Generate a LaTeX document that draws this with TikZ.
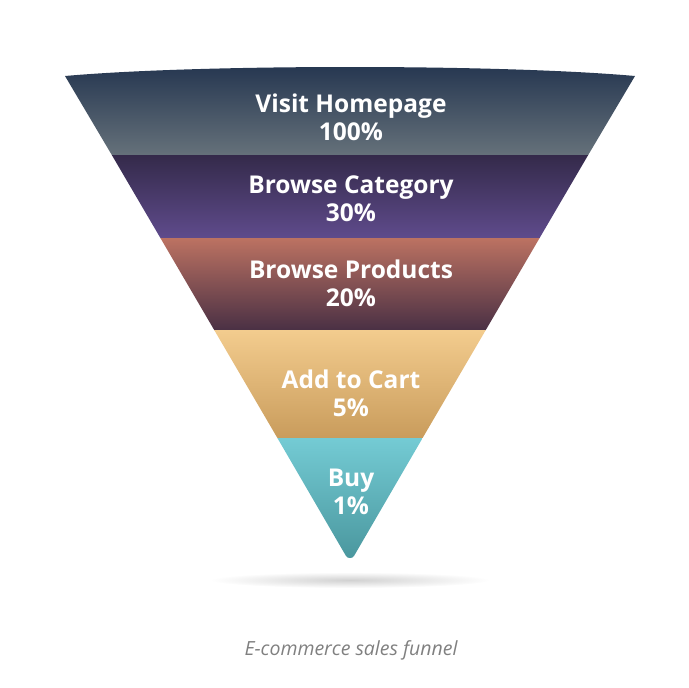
\documentclass[tikz,border=0pt]{standalone}
\usepackage{fontspec}
\setmainfont{Open Sans}
\usetikzlibrary{positioning}
\definecolor{navytop}{HTML}{253650}
\definecolor{navybot}{HTML}{65717A}
\definecolor{purptop}{HTML}{342A4A}
\definecolor{purpbot}{HTML}{5F4B8C}
\definecolor{salmtop}{HTML}{BC7262}
\definecolor{salmbot}{HTML}{4A3044}
\definecolor{tantop}{HTML}{F3CC8E}
\definecolor{tanbot}{HTML}{C99C5C}
\definecolor{cyantop}{HTML}{74CBD4}
\definecolor{cyanbot}{HTML}{4A979E}
\begin{document}
\begin{tikzpicture}[x=1pt,y=-1pt,
  stage/.style={text=white, font=\bfseries\fontsize{24.5}{28}\selectfont, align=center},
  caption/.style={text=gray, font=\itshape\fontsize{19.5}{22}\selectfont}]
  \useasboundingbox (0,0) rectangle (688,688);
  % shadow
  \shade[inner color=black!18, outer color=white] (350,580) ellipse (140 and 8);
  % bands
  \shade[top color=navytop, bottom color=navybot] (65,76) .. controls (200,64) and (500,64) .. (635,76) -- (588.2,155) -- (111.8,155) -- cycle;
  \shade[top color=purptop, bottom color=purpbot] (111.8,155) -- (588.2,155) -- (539.6,238) -- (160.4,238) -- cycle;
  \shade[top color=salmtop, bottom color=salmbot] (160.4,238) -- (539.6,238) -- (485.8,330) -- (214.2,330) -- cycle;
  \shade[top color=tantop, bottom color=tanbot] (214.2,330) -- (485.8,330) -- (422.6,438) -- (277.4,438) -- cycle;
  \shade[top color=cyantop, bottom color=cyanbot] (277.4,438) -- (422.6,438) -- (354,556) to[out=-120,in=-60] (346,556) -- cycle;
  % labels
  \node (visit) [stage] at (351,117) {Visit Homepage\\100\%};
  \node (category) [stage] at (351,199) {Browse Category\\30\%};
  \node (products) [stage] at (351,283) {Browse Products\\20\%};
  \node (cart) [stage] at (351,393) {Add to Cart\\5\%};
  \node (buy) [stage] at (351,492) {Buy\\1\%};
  \node (cap) [caption] at (351,650) {E-commerce sales funnel};
\end{tikzpicture}
\end{document}
